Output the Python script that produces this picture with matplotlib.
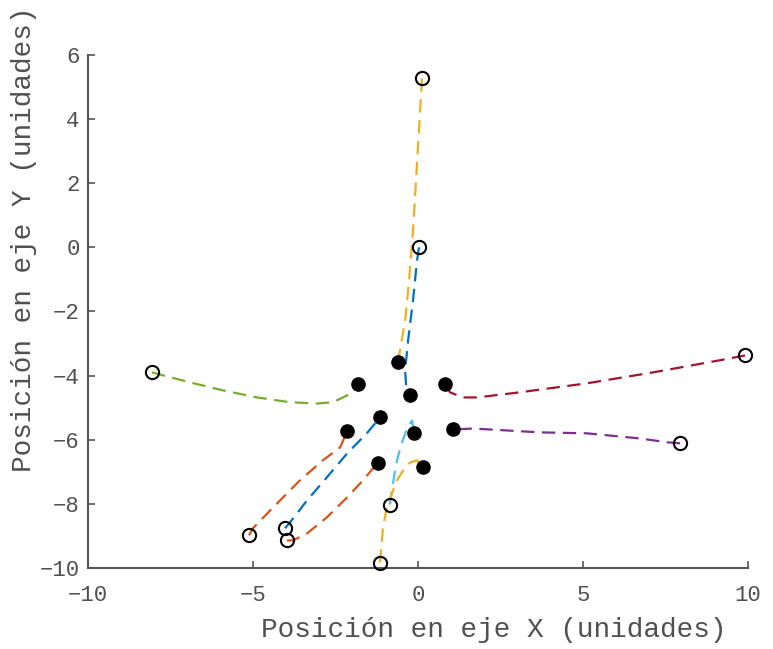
import matplotlib
matplotlib.use("Agg")
import matplotlib.pyplot as plt

# Trayectorias: cada una empieza en el círculo abierto y termina en el punto negro.
azul1_x = [0.03, -0.03, -0.15, -0.30, -0.39, -0.36, -0.24]
azul1_y = [0.00, -0.41, -1.65, -2.90, -3.84, -4.30, -4.62]

naranja1_x = [-5.12, -5.00, -4.39, -3.58, -2.88, -2.36, -2.15]
naranja1_y = [-8.98, -8.76, -8.11, -7.27, -6.64, -6.24, -5.74]

amarillo1_x = [0.12, 0.03, -0.06, -0.15, -0.27, -0.39, -0.52, -0.61]
amarillo1_y = [5.27, 3.65, 2.09, 0.53, -1.03, -2.28, -3.06, -3.59]

morado_x = [7.94, 7.55, 6.73, 5.12, 3.70, 1.67, 1.06]
morado_y = [-6.11, -6.08, -5.96, -5.80, -5.77, -5.65, -5.68]

verde_x = [-8.06, -7.73, -6.91, -5.91, -4.88, -3.88, -3.06, -2.58, -2.15, -1.91, -1.82]
verde_y = [-3.90, -3.99, -4.21, -4.46, -4.68, -4.83, -4.87, -4.83, -4.62, -4.40, -4.27]

celeste_x = [-0.85, -0.79, -0.67, -0.52, -0.33, -0.18, -0.12]
celeste_y = [-8.02, -7.58, -6.80, -6.18, -5.65, -5.40, -5.80]

granate_x = [9.91, 9.15, 7.12, 5.12, 3.09, 1.79, 1.36, 0.97, 0.82]
granate_y = [-3.37, -3.52, -3.90, -4.24, -4.52, -4.68, -4.68, -4.52, -4.27]

azul2_x = [-4.03, -3.88, -3.36, -2.76, -2.15, -1.55, -1.15]
azul2_y = [-8.76, -8.58, -7.89, -7.17, -6.43, -5.80, -5.30]

naranja2_x = [-3.97, -3.79, -3.36, -2.76, -2.15, -1.67, -1.21]
naranja2_y = [-9.14, -9.14, -8.92, -8.42, -7.80, -7.27, -6.71]

amarillo2_x = [-1.15, -1.12, -1.06, -0.94, -0.79, -0.64, -0.45, -0.24, -0.03, 0.15]
amarillo2_y = [-9.83, -9.45, -8.73, -8.11, -7.67, -7.27, -6.96, -6.71, -6.64, -6.86]

trayectorias = [
    (azul1_x, azul1_y),
    (naranja1_x, naranja1_y),
    (amarillo1_x, amarillo1_y),
    (morado_x, morado_y),
    (verde_x, verde_y),
    (celeste_x, celeste_y),
    (granate_x, granate_y),
    (azul2_x, azul2_y),
    (naranja2_x, naranja2_y),
    (amarillo2_x, amarillo2_y),
]

# orden de colores por defecto de MATLAB
colores = ["#0072BD", "#D95319", "#EDB120", "#7E2F8E", "#77AC30",
           "#4DBEEE", "#A2142F"]

plt.rcParams['font.family'] = ['Liberation Mono', 'DejaVu Sans Mono']

fig = plt.figure(figsize=(7.73, 6.49), dpi=100)
ax = fig.add_axes([0.1138, 0.1248, 0.8539, 0.7905])

for i, (xs, ys) in enumerate(trayectorias):
    ax.plot(xs, ys, color=colores[i % len(colores)], lw=1.6,
            linestyle=(0, (6.0, 3.4)), zorder=2)

# inicio (círculo abierto) y final (punto relleno)
for xs, ys in trayectorias:
    ax.plot(xs[0], ys[0], 'o', mfc='none', mec='k', ms=9.5, mew=1.5,
            zorder=3, clip_on=False)
    ax.plot(xs[-1], ys[-1], 'o', color='k', ms=9.5, zorder=3, clip_on=False)

ax.set_xlim(-10, 10)
ax.set_ylim(-10, 6)
ax.set_xticks([-10, -5, 0, 5, 10])
ax.set_yticks(range(-10, 7, 2))

for lado in ['top', 'right']:
    ax.spines[lado].set_visible(False)
for lado in ['left', 'bottom']:
    ax.spines[lado].set_color('#555555')
    ax.spines[lado].set_linewidth(1.5)

ax.tick_params(direction='in', length=5, width=1.2, color='#555555',
               labelcolor='#505050', labelsize=16)
ax.tick_params(axis='x', pad=12)
ax.tick_params(axis='y', pad=6)

ax.set_xlabel('Posición en eje X (unidades)', fontsize=20, color='#505050')
ax.set_ylabel('Posición en eje Y (unidades)', fontsize=20, color='#505050')
ax.xaxis.set_label_coords(0.615, -0.095)
ax.yaxis.set_label_coords(-0.077, 0.64)

fig.savefig('out.png', dpi=100, facecolor='white')
